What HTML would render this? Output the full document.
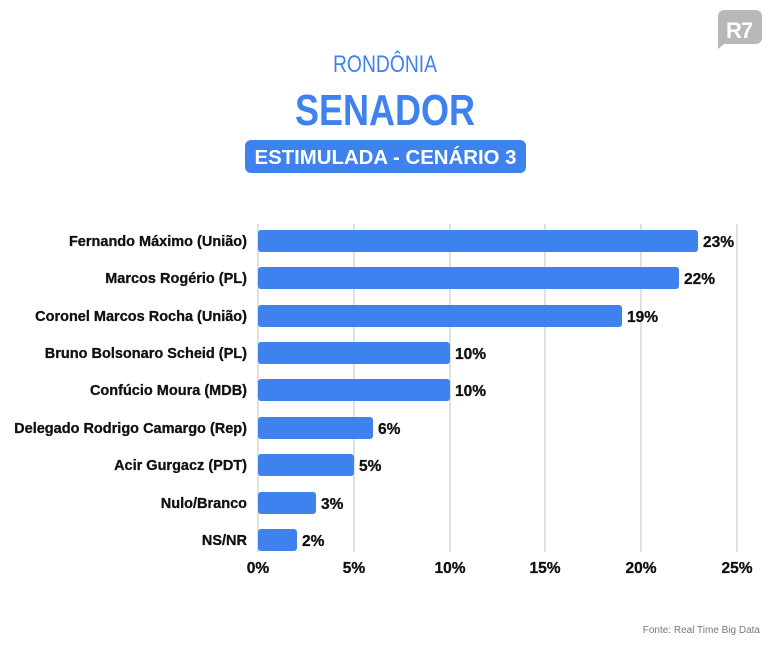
<!DOCTYPE html>
<html><head><meta charset="utf-8"><style>
body{margin:0;background:#fff;}
svg{display:block;font-family:"Liberation Sans",sans-serif;}
</style></head><body>
<svg width="770" height="650" xmlns="http://www.w3.org/2000/svg">
<rect width="770" height="650" fill="#fff"/>
<path d="M718 10 h38 a6 6 0 0 1 6 6 v22 a6 6 0 0 1 -6 6 h-32 l-6 5 v-33 a6 6 0 0 1 6 -6z" fill="#b8b8b8"/>
<text x="739" y="38" text-anchor="middle" font-size="22" font-weight="bold" fill="#fff" letter-spacing="-1">R7</text>
<text x="385" y="72" text-anchor="middle" font-size="24" fill="#3d82ee" textLength="104" lengthAdjust="spacingAndGlyphs">RONDÔNIA</text>
<text x="385" y="125" text-anchor="middle" font-size="44" font-weight="bold" fill="#3d82ee" textLength="180" lengthAdjust="spacingAndGlyphs">SENADOR</text>
<rect x="245" y="140" width="281" height="33" rx="6" fill="#3d82ee"/>
<text x="385.5" y="164" text-anchor="middle" font-size="20" font-weight="bold" fill="#fff" textLength="262" lengthAdjust="spacingAndGlyphs">ESTIMULADA - CENÁRIO 3</text>
<g stroke="#d0d0d0" stroke-width="1.3">
<line x1="258" y1="224" x2="258" y2="552"/>
<line x1="354" y1="224" x2="354" y2="552"/>
<line x1="450" y1="224" x2="450" y2="552"/>
<line x1="545" y1="224" x2="545" y2="552"/>
<line x1="641" y1="224" x2="641" y2="552"/>
<line x1="737" y1="224" x2="737" y2="552"/>
</g>
<g font-size="15.5" font-weight="bold" fill="#111" stroke="#111" stroke-width="0.3" text-anchor="middle">
<text x="258" y="573">0%</text><text x="354" y="573">5%</text><text x="450" y="573">10%</text>
<text x="545" y="573">15%</text><text x="641" y="573">20%</text><text x="737" y="573">25%</text>
</g>
<g fill="#3d82ee">
<rect x="258" y="230" width="440" height="22" rx="3"/>
<rect x="258" y="267" width="421" height="22" rx="3"/>
<rect x="258" y="305" width="364" height="22" rx="3"/>
<rect x="258" y="342" width="192" height="22" rx="3"/>
<rect x="258" y="379" width="192" height="22" rx="3"/>
<rect x="258" y="417" width="115" height="22" rx="3"/>
<rect x="258" y="454" width="96" height="22" rx="3"/>
<rect x="258" y="492" width="58" height="22" rx="3"/>
<rect x="258" y="529" width="39" height="22" rx="3"/>
</g>
<g font-size="14.5" font-weight="bold" fill="#111" stroke="#111" stroke-width="0.3" text-anchor="end">
<text x="247" y="246">Fernando Máximo (União)</text>
<text x="247" y="283">Marcos Rogério (PL)</text>
<text x="247" y="321">Coronel Marcos Rocha (União)</text>
<text x="247" y="358">Bruno Bolsonaro Scheid (PL)</text>
<text x="247" y="395">Confúcio Moura (MDB)</text>
<text x="247" y="433">Delegado Rodrigo Camargo (Rep)</text>
<text x="247" y="470">Acir Gurgacz (PDT)</text>
<text x="247" y="508">Nulo/Branco</text>
<text x="247" y="545">NS/NR</text>
</g>
<g font-size="15.5" font-weight="bold" fill="#111" stroke="#111" stroke-width="0.3">
<text x="703" y="247">23%</text>
<text x="684" y="284">22%</text>
<text x="627" y="322">19%</text>
<text x="455" y="359">10%</text>
<text x="455" y="396">10%</text>
<text x="378" y="434">6%</text>
<text x="359" y="471">5%</text>
<text x="321" y="509">3%</text>
<text x="302" y="546">2%</text>
</g>
<text x="760" y="633" text-anchor="end" font-size="10" fill="#777">Fonte: Real Time Big Data</text>
</svg>
</body></html>
